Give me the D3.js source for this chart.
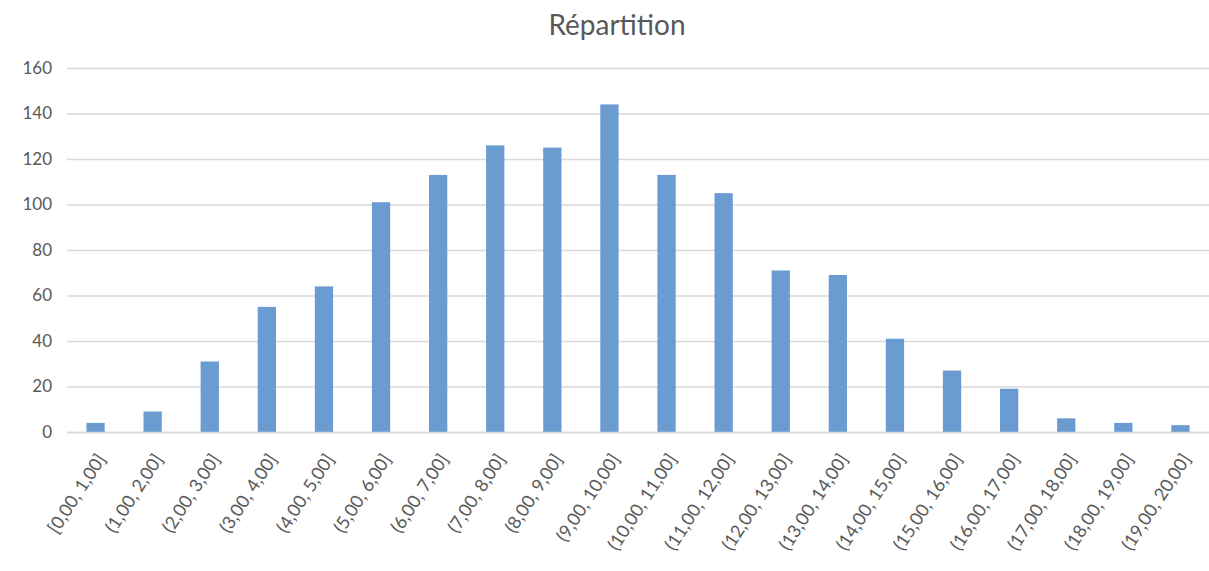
<!DOCTYPE html>
<html lang="fr">
<head>
    <meta charset="UTF-8">
    <title>Répartition</title>
    <style>
        body { margin: 0; background: #fff; }
        svg { display: block; font-family: Lato, "Open Sans", sans-serif; }
    </style>
</head>
<body>
    <div id="chart"></div>
    <script src="https://cdn.jsdelivr.net/npm/d3@7"></script>
    <script>
        // Data
        const categories = [
            "[0,00, 1,00]", "(1,00, 2,00]", "(2,00, 3,00]", "(3,00, 4,00]", "(4,00, 5,00]",
            "(5,00, 6,00]", "(6,00, 7,00]", "(7,00, 8,00]", "(8,00, 9,00]", "(9,00, 10,00]",
            "(10,00, 11,00]", "(11,00, 12,00]", "(12,00, 13,00]", "(13,00, 14,00]", "(14,00, 15,00]",
            "(15,00, 16,00]", "(16,00, 17,00]", "(17,00, 18,00]", "(18,00, 19,00]", "(19,00, 20,00]"
        ];
        const counts = [4, 9, 31, 55, 64, 101, 113, 126, 125, 144, 113, 105, 71, 69, 41, 27, 19, 6, 4, 3];
        const yTicks = [0, 20, 40, 60, 80, 100, 120, 140, 160];
        const chartTitle = "Répartition";

        const width = 1209;
        const height = 571;
        const marginTop = 68;
        const marginRight = 0;
        const marginBottom = 139;
        const marginLeft = 67;

        const data = categories.map((c, i) => ({ label: c, value: counts[i] }));

        const x = d3.scaleBand()
            .domain(categories)
            .range([marginLeft, width - marginRight])
            .paddingInner(0.68)
            .paddingOuter(0.34);

        const y = d3.scaleLinear()
            .domain([0, 160])
            .range([height - marginBottom, marginTop]);

        const svg = d3.select("#chart").append("svg")
            .attr("width", width)
            .attr("height", height)
            .attr("viewBox", [0, 0, width, height]);

        // title
        svg.append("text")
            .attr("x", 617)
            .attr("y", 35)
            .attr("text-anchor", "middle")
            .attr("fill", "#595959")
            .attr("font-size", 28)
            .text(chartTitle);

        // gridlines + y labels
        svg.append("g")
            .attr("transform", `translate(${marginLeft},0)`)
            .call(d3.axisLeft(y).tickValues(yTicks).tickSize(-(width - marginLeft - marginRight)).tickPadding(15))
            .call(g => g.select(".domain").remove())
            .call(g => g.selectAll(".tick line").attr("stroke", "#d9d9d9").attr("stroke-width", 1.4))
            .call(g => g.selectAll(".tick text")
                .attr("fill", "#595959")
                .attr("font-size", 17)
                .attr("font-family", "Lato, sans-serif"));

        // bars
        svg.append("g")
            .selectAll("rect")
            .data(data)
            .join("rect")
            .attr("x", d => x(d.label))
            .attr("y", d => y(d.value))
            .attr("width", x.bandwidth())
            .attr("height", d => y(0) - y(d.value))
            .attr("fill", "#6a9bd1");

        // x axis line and rotated labels
        svg.append("g")
            .attr("transform", `translate(0,${y(0)})`)
            .call(d3.axisBottom(x).tickSize(0).tickSizeOuter(0))
            .call(g => g.select(".domain").attr("stroke", "#d9d9d9").attr("stroke-width", 1.4))
            .call(g => g.selectAll(".tick text")
                .attr("fill", "#595959")
                .attr("font-size", 18)
                .attr("font-family", "Lato, sans-serif")
                .attr("text-anchor", "end")
                .attr("dy", null)
                .attr("y", null)
                .attr("transform", "translate(11,27) rotate(-57)"));
    </script>
</body>
</html>
